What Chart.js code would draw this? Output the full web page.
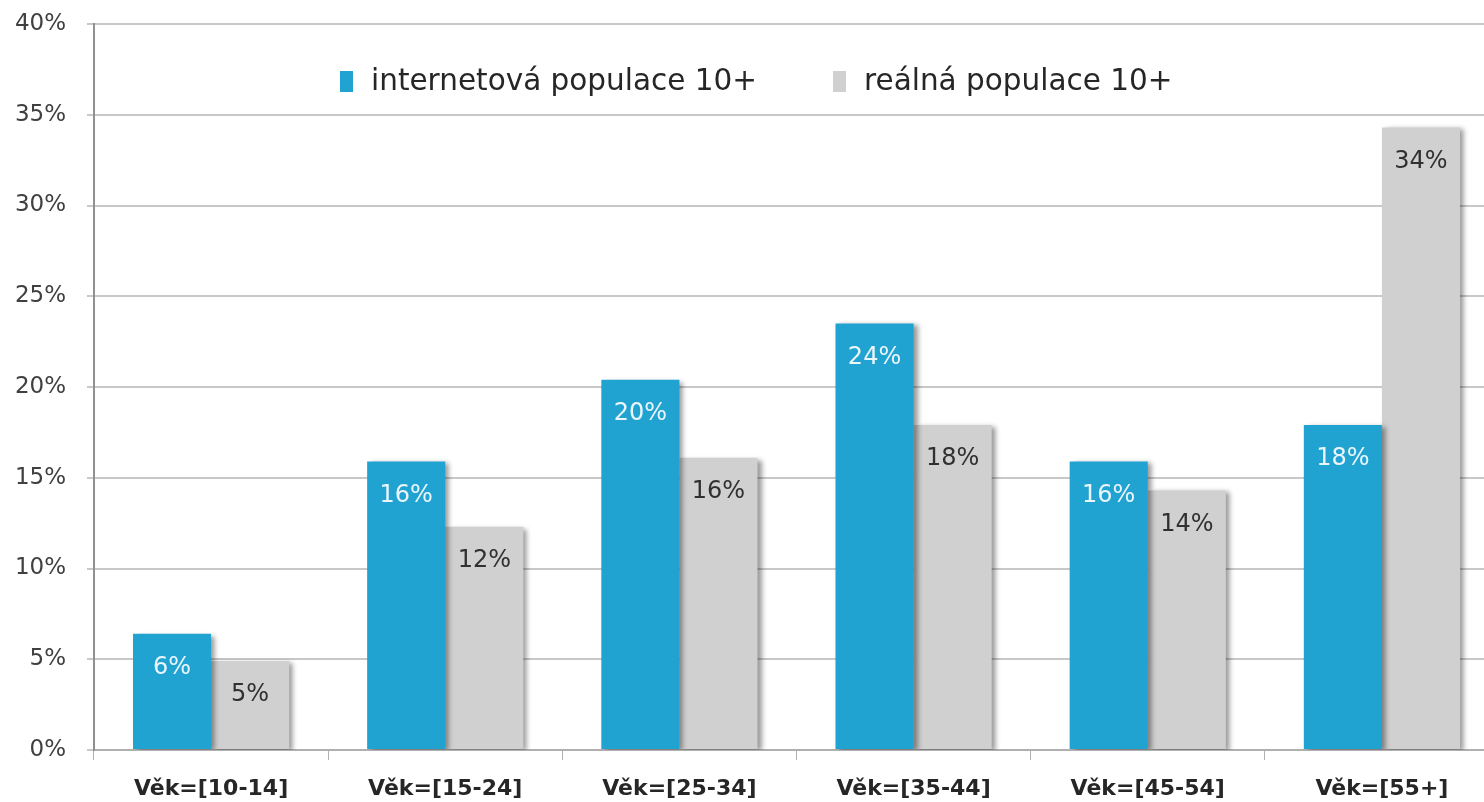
<!DOCTYPE html>
<html>
<head>
<meta charset="utf-8">
<script src="https://cdn.jsdelivr.net/npm/chart.js@4.4.1/dist/chart.umd.min.js"></script>
<style>
  html, body { margin: 0; padding: 0; overflow: hidden; background: #fff; }
  #wrap { width: 1503px; height: 802px; }
</style>
</head>
<body>
<div id="wrap"><canvas id="vekChart"></canvas></div>
<script>
// data (percent)
const categories = ['Věk=[10-14]', 'Věk=[15-24]', 'Věk=[25-34]', 'Věk=[35-44]', 'Věk=[45-54]', 'Věk=[55+]'];
const internetPop = [6.4, 15.9, 20.4, 23.5, 15.9, 17.9];
const realPop = [4.9, 12.3, 16.1, 17.9, 14.3, 34.3];
const seriesNames = ['internetová populace 10+', 'reálná populace 10+'];
const yTicks = [0, 5, 10, 15, 20, 25, 30, 35, 40];

const FONT = '"DejaVu Sans", sans-serif';

// stin pod sloupci
const shadowPlugin = {
    id: 'barShadow',
    beforeDatasetDraw(chart) {
        const ctx = chart.ctx;
        ctx.save();
        ctx.shadowColor = 'rgba(0,0,0,0.4)';
        ctx.shadowBlur = 5;
        ctx.shadowOffsetX = 4;
        ctx.shadowOffsetY = 2;
    },
    afterDatasetDraw(chart) {
        chart.ctx.restore();
    }
};

// popisky hodnot uvnitr sloupcu
const valueLabels = {
    id: 'valueLabels',
    afterDatasetsDraw(chart) {
        const ctx = chart.ctx;
        ctx.save();
        ctx.font = '24px ' + FONT;
        ctx.textAlign = 'center';
        ctx.textBaseline = 'middle';
        chart.data.datasets.forEach((ds, i) => {
            const meta = chart.getDatasetMeta(i);
            ctx.fillStyle = i === 0 ? '#eaf6fb' : '#303030';
            meta.data.forEach((bar, j) => {
                ctx.fillText(Math.round(ds.data[j]) + '%', bar.x, bar.y + 34);
            });
        });
        ctx.restore();
    }
};

// legenda uvnitr grafu
const legendInside = {
    id: 'legendInside',
    afterDraw(chart) {
        const ctx = chart.ctx;
        const xs = [340, 833];
        ctx.save();
        ctx.font = '29.5px ' + FONT;
        ctx.textBaseline = 'middle';
        chart.data.datasets.forEach((ds, i) => {
            ctx.fillStyle = ds.backgroundColor;
            ctx.fillRect(xs[i], 71, 13, 21);
            ctx.fillStyle = '#262626';
            ctx.fillText(ds.label, xs[i] + 31, 82);
        });
        ctx.restore();
    }
};

new Chart(document.getElementById('vekChart').getContext('2d'), {
    type: 'bar',
    data: {
        labels: categories,
        datasets: [{
            label: seriesNames[0],
            data: internetPop,
            backgroundColor: '#21a3d2'
        }, {
            label: seriesNames[1],
            data: realPop,
            backgroundColor: '#d0d0d0'
        }]
    },
    options: {
        responsive: true,
        maintainAspectRatio: false,
        animation: false,
        layout: { padding: { top: 24, right: 4, left: 0, bottom: 0 } },
        datasets: {
            bar: { barPercentage: 1, categoryPercentage: 0.667 }
        },
        plugins: {
            legend: { display: false },
            tooltip: { enabled: false }
        },
        scales: {
            x: {
                grid: {
                    offset: true,
                    drawOnChartArea: false,
                    tickLength: 10,
                    color: '#b0b0b0'
                },
                border: { color: '#b0b0b0', width: 2 },
                ticks: {
                    padding: 16,
                    color: '#262626',
                    font: { family: FONT, size: 22, weight: 'bold' }
                },
                afterFit(scale) {
                    scale.height = 52;
                    scale.paddingLeft = 0;
                    scale.paddingRight = 0;
                }
            },
            y: {
                min: 0,
                max: 40,
                afterBuildTicks(scale) {
                    scale.ticks = yTicks.map(v => ({ value: v }));
                },
                grid: {
                    color: '#c8c8c8',
                    lineWidth: 2,
                    tickLength: 7
                },
                border: { color: '#909090', width: 2 },
                ticks: {
                    padding: 21,
                    color: '#404040',
                    font: { family: FONT, size: 23 },
                    callback: v => v + '%'
                },
                afterFit(scale) {
                    scale.width = 94;
                    scale.paddingTop = 0;
                    scale.paddingBottom = 0;
                }
            }
        }
    },
    plugins: [shadowPlugin, valueLabels, legendInside]
});
</script>
</body>
</html>
